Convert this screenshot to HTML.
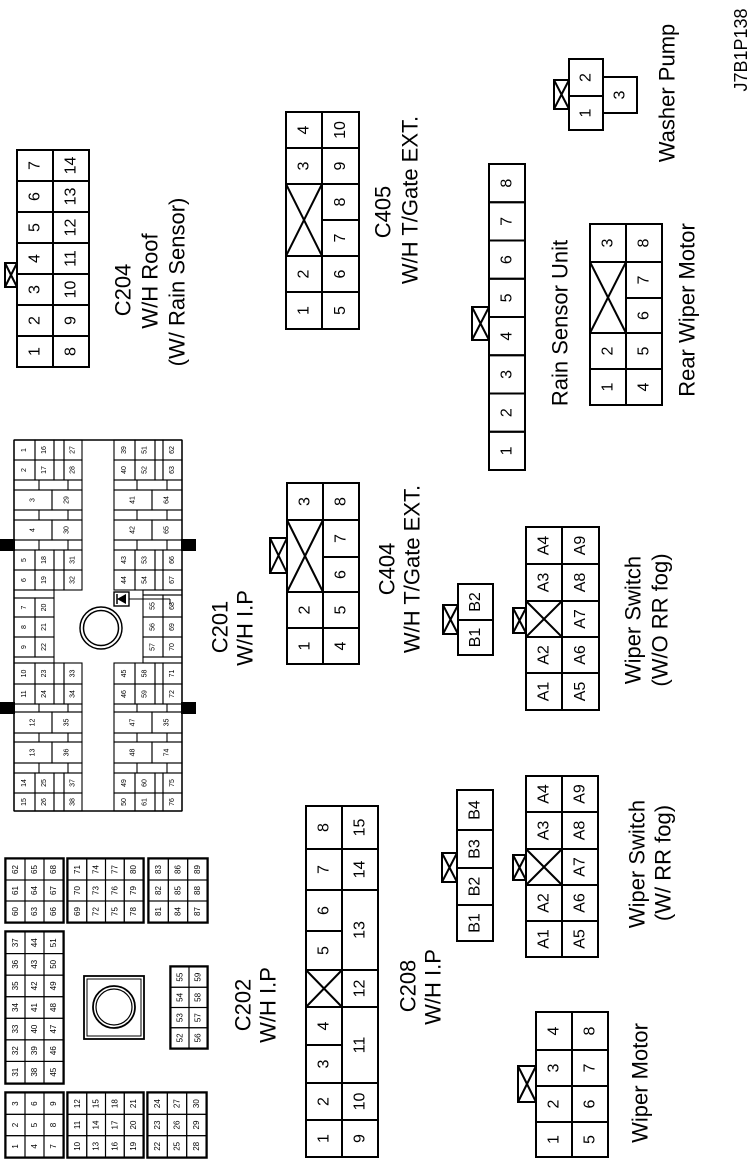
<!DOCTYPE html>
<html><head><meta charset="utf-8"><style>
html,body{margin:0;padding:0;background:#fff;}
svg{display:block;}
text{font-family:"Liberation Sans",Arial,sans-serif;fill:#000;}
</style></head><body>
<svg id="s" xmlns="http://www.w3.org/2000/svg" width="750" height="1159" viewBox="0 0 750 1159"></svg>
<script>
var s=document.getElementById('s'),NS='http://www.w3.org/2000/svg';
function el(n,a,t){var e=document.createElementNS(NS,n);for(var k in a)e.setAttribute(k,a[k]);if(t!=null)e.textContent=t;s.appendChild(e);return e;}
function R(x1,y1,x2,y2,sw,fill){el('rect',{x:x1,y:y1,width:x2-x1,height:y2-y1,fill:fill||'none',stroke:'#000','stroke-width':sw||2});}
function L(x1,y1,x2,y2,sw){el('line',{x1:x1,y1:y1,x2:x2,y2:y2,stroke:'#000','stroke-width':sw||2});}
function T(x,y,t,fs){el('text',{x:x,y:y,'font-size':fs,'text-anchor':'middle','dominant-baseline':'central',transform:'rotate(-90 '+x+' '+y+')'},t);}
function C(x1,y1,x2,y2,t,fs,sw){R(x1,y1,x2,y2,sw);if(t)T((x1+x2)/2,(y1+y2)/2,t,fs);}
function X(x1,y1,x2,y2,sw){R(x1,y1,x2,y2,sw);L(x1,y1,x2,y2,sw);L(x1,y2,x2,y1,sw);}
function col(x1,x2,ys,labs,fs,sw){for(var i=0;i<labs.length;i++){if(labs[i]==='X')X(x1,ys[i],x2,ys[i+1],sw);else C(x1,ys[i],x2,ys[i+1],labs[i],fs,sw);}}
var F=16;
// C204
var ys=[150,181,212,243,274,305,336,367];
col(17,53,ys,['7','6','5','4','3','2','1'],F);
col(53,89,ys,['14','13','12','11','10','9','8'],F);
X(5,263,17,287);
T(123,290,'C204',22);T(150,281,'W/H Roof',22);T(177,282,'(W/ Rain Sensor)',22);
// C405
col(286,322,[112,148,184,256,292,329],['4','3','X','2','1'],F);
col(322,359,[112,148,184,220,256,292,329],['10','9','8','7','6','5'],F);
T(383,212,'C405',22);T(410,200,'W/H T/Gate EXT.',22);
// Rain sensor unit
var ry=[];for(var i=0;i<=8;i++)ry.push(164+i*38.25);
col(489,525,ry,['8','7','6','5','4','3','2','1'],F);
X(472,307,489,340);
T(560,323,'Rain Sensor Unit',22);
// Rear wiper motor
col(590,626,[224,262,333,369,405],['3','X','2','1'],F);
col(626,662,[224,262,298,333,369,405],['8','7','6','5','4'],F);
T(687,310,'Rear Wiper Motor',22);
// Washer pump
C(569,59,603,96,'2',F);C(569,96,603,130,'1',F);C(603,77,637,113,'3',F);
X(554,80,569,109);
T(667,93,'Washer Pump',22);
T(741,50,'J7B1P138',18);
// C404
col(287,323,[483,520,592,628,664],['3','X','2','1'],F);
col(323,359,[483,520,557,592,628,664],['8','7','6','5','4'],F);
X(270,538,287,573);
T(387,569,'C404',22);T(412,569,'W/H T/Gate EXT.',22);
// B1 B2
col(458,493,[584,620,655],['B2','B1'],F);
X(443,605,458,634);
// Wiper switch W/O
col(526,562,[527,564,601,637,673,710],['A4','A3','X','A2','A1'],F);
col(562,599,[527,564,601,637,673,710],['A9','A8','A7','A6','A5'],F);
X(513,608,526,633);
T(633,620,'Wiper Switch',22);T(660,620,'(W/O RR fog)',22);
// C208
col(306,342,[806,849,890,931,970,1007,1045,1083,1120,1157],['8','7','6','5','X','4','3','2','1'],F);
col(342,378,[806,849,890,970,1007,1083,1120,1157],['15','14','13','12','11','10','9'],F);
T(408,986,'C208',22);T(433,987,'W/H I.P',22);
// B1-B4
col(457,493,[790,830,868,905,941],['B4','B3','B2','B1'],F);
X(442,853,457,882);
// Wiper switch W/
col(526,562,[776,812,849,885,921,957],['A4','A3','X','A2','A1'],F);
col(562,598,[776,812,849,885,921,957],['A9','A8','A7','A6','A5'],F);
X(513,855,526,880);
T(637,864,'Wiper Switch',22);T(663,863,'(W/ RR fog)',22);
// Wiper motor
col(536,572,[1012,1050,1086,1122,1157],['4','3','2','1'],F);
col(572,608,[1012,1050,1086,1122,1157],['8','7','6','5'],F);
X(518,1066,536,1102);
T(640,1083,'Wiper Motor',22);
// C202
var f2=8;
function grid(x0,x1,y0,y1,cols){
  var nc=cols.length,nr=cols[0].length,w=(x1-x0)/nc,h=(y1-y0)/nr;
  R(x0-1,y0-1,x1+1,y1+1,1.5);
  for(var c=0;c<nc;c++)for(var r=0;r<nr;r++)C(x0+c*w,y0+r*h,x0+(c+1)*w,y0+(r+1)*h,cols[c][r],f2,1.1);
}
grid(6,63,859,922,[['62','61','60'],['65','64','63'],['68','67','66']]);
grid(68,143,859,922,[['71','70','69'],['74','73','72'],['77','76','75'],['80','79','78']]);
grid(149,207,859,922,[['83','82','81'],['86','85','84'],['89','88','87']]);
grid(6,63,932,1083,[['37','36','35','34','33','32','31'],['44','43','42','41','40','39','38'],['51','50','49','48','47','46','45']]);
grid(171,207,967,1048,[['55','54','53','52'],['59','58','57','56']]);
grid(6,63,1093,1157,[['3','2','1'],['6','5','4'],['9','8','7']]);
grid(68,143,1093,1157,[['12','11','10'],['15','14','13'],['18','17','16'],['21','20','19']]);
grid(148,206,1093,1157,[['24','23','22'],['27','26','25'],['30','29','28']]);
R(84,976,144,1039,1.8);R(87,979,141,1036,1);
el('circle',{cx:114,cy:1007,r:21,fill:'none',stroke:'#000','stroke-width':1.8});
el('circle',{cx:114,cy:1007,r:18,fill:'none',stroke:'#000','stroke-width':1.2});
T(243,1005,'C202',22);T(268,1005,'W/H I.P',22);
// C201
var f1=7,sw=1.1;
L(14,440,182,440,1.5);L(14,811,182,811,1.5);L(14,440,14,811,1.5);L(182,440,182,811,1.5);
function std(x,y0,y1,l1,l2,l3,ax){
  C(ax[0],y0,ax[1],y1,l1,f1,sw);C(ax[1],y0,ax[2],y1,l2,f1,sw);R(ax[2],y0,ax[3],y1,sw);C(ax[3],y0,ax[4],y1,l3,f1,sw);}
function wide(y0,y1,l1,l2,a,b,c){C(a,y0,b,y1,l1,f1,sw);C(b,y0,c,y1,l2,f1,sw);}
function strip(y0,y1,a,c,divs){R(a,y0,c,y1,sw);divs.forEach(function(d){L(d,y0,d,y1,sw);});}
var LA=[14,35,54,64,82],RA=[114,135,155,163,182];
std(0,440,460,'1','16','27',LA);std(0,460,480,'2','17','28',LA);
strip(480,490,14,82,[39,68]);wide(490,510,'3','29',14,52,82);strip(510,520,14,82,[39,68]);
wide(520,540,'4','30',14,52,82);strip(540,550,14,82,[39,68]);
std(0,550,570,'5','18','31',LA);std(0,570,590,'6','19','32',LA);
R(14,590,54,598,sw);
C(14,598,35,617,'7',f1,sw);C(35,598,54,617,'20',f1,sw);
C(14,617,35,637,'8',f1,sw);C(35,617,54,637,'21',f1,sw);
C(14,637,35,657,'9',f1,sw);C(35,637,54,657,'22',f1,sw);
R(14,657,54,663,sw);
std(0,663,684,'10','23','33',LA);std(0,684,704,'11','24','34',LA);
strip(704,712,14,82,[39,68]);wide(712,733,'12','35',14,52,82);strip(733,742,14,82,[39,68]);
wide(742,763,'13','36',14,52,82);strip(763,773,14,82,[39,68]);
std(0,773,793,'14','25','37',LA);std(0,793,811,'15','26','38',LA);
std(0,440,460,'39','51','62',RA);std(0,460,480,'40','52','63',RA);
strip(480,490,114,182,[137,167]);wide(490,510,'41','64',114,152,182);strip(510,520,114,182,[137,167]);
wide(520,540,'42','65',114,152,182);strip(540,550,114,182,[137,167]);
std(0,550,570,'43','53','66',RA);std(0,570,590,'44','54','67',RA);
R(143,590,182,595,sw);
C(143,595,163,617,'55',f1,sw);C(163,595,182,617,'68',f1,sw);
C(143,617,163,637,'56',f1,sw);C(163,617,182,637,'69',f1,sw);
C(143,637,163,657,'57',f1,sw);C(163,637,182,657,'70',f1,sw);
R(143,657,182,663,sw);
std(0,663,684,'45','58','71',RA);std(0,684,704,'46','59','72',RA);
strip(704,712,114,182,[137,167]);wide(712,733,'47','35',114,152,182);strip(733,742,114,182,[137,167]);
wide(742,763,'48','74',114,152,182);strip(763,773,114,182,[137,167]);
std(0,773,793,'49','60','75',RA);std(0,793,811,'50','61','76',RA);
R(114,592,129,606,1.4);
el('polygon',{points:'117,599 126,594 126,604',fill:'#000'});
L(117,594,117,604,1.5);
L(129,599,170,599,1);L(170,599,170,604,1);
el('circle',{cx:101,cy:628,r:21,fill:'none',stroke:'#000','stroke-width':1.5});
el('circle',{cx:101,cy:628,r:17.5,fill:'none',stroke:'#000','stroke-width':1.5});
R(0,540,14,550,0,'#000');R(0,703,14,713,0,'#000');
R(182,540,195,550,0,'#000');R(182,703,195,713,0,'#000');
T(220,627,'C201',22);T(245,628,'W/H I.P',22);
</script>
</body></html>
